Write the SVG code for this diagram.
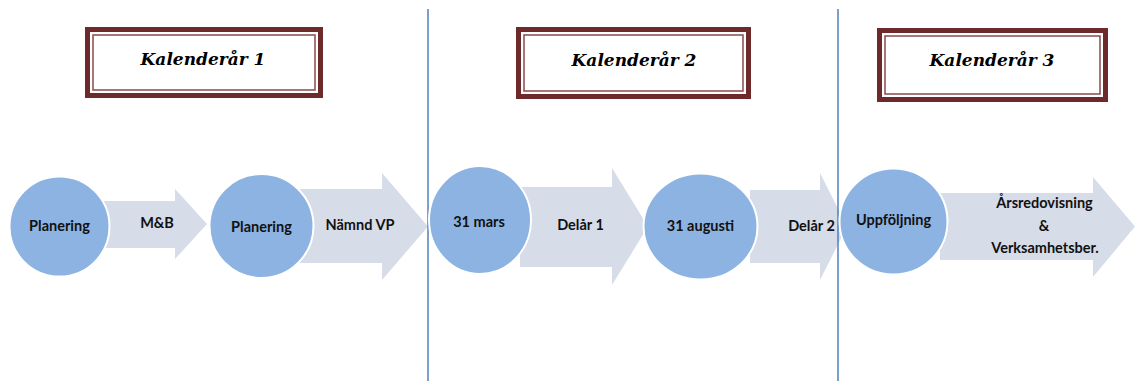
<svg xmlns="http://www.w3.org/2000/svg" width="1135" height="381" viewBox="0 0 1135 381">
<style>
.bg{fill:#ffffff}
.outer{fill:#ffffff;stroke:#6e2a2a;stroke-width:5}
.inner{fill:none;stroke:#8a4a4a;stroke-width:1.5}
.title{font-family:"DejaVu Serif",serif;font-weight:bold;font-style:italic;font-size:17px;fill:#000;text-anchor:middle}
.arrow{fill:#d6dce8}
.circ{fill:#8db3e2;stroke:#ffffff;stroke-width:2}
.lbl{font-family:Lato,"Liberation Sans",sans-serif;font-weight:bold;font-size:14.5px;fill:#111;text-anchor:middle}
.vline{stroke:#4f81bd;stroke-width:1.5}
</style>
<rect class="bg" x="0" y="0" width="1135" height="381"/>

<g id="header1">
<rect class="outer" x="87.5" y="29.5" width="233" height="66"/>
<rect class="inner" x="93" y="35" width="222" height="55"/>
<text class="title" x="203" y="65">Kalenderår 1</text>
</g>
<g id="header2">
<rect class="outer" x="518.5" y="29.5" width="230" height="67"/>
<rect class="inner" x="524" y="35" width="219" height="56"/>
<text class="title" x="634" y="66">Kalenderår 2</text>
</g>
<g id="header3">
<rect class="outer" x="879.5" y="30.5" width="226" height="69"/>
<rect class="inner" x="885" y="36" width="215" height="58"/>
<text class="title" x="992" y="66">Kalenderår 3</text>
</g>

<g id="connectors">
<path id="arrow-mb" class="arrow" d="M100,201 H175 V189 L207,224 L175,259 V248 H100 Z"/>
<path id="arrow-namnd" class="arrow" d="M300,189 H382 V173 L428,226.5 L382,280 V263 H300 Z"/>
<path id="arrow-delar1" class="arrow" d="M520,187 H612 V168 L648,226.5 L612,285 V267 H520 Z"/>
<path id="arrow-delar2" class="arrow" d="M750,190 H820 V173 L847,226.5 L820,280 V263 H750 Z"/>
<path id="arrow-ars" class="arrow" d="M940,193 H1093 V177 L1135,226.5 L1093,277 V260 H940 Z"/>
</g>

<g id="arrow-labels">
<text class="lbl" x="157" y="228">M&amp;B</text>
<text class="lbl" x="360" y="230">Nämnd VP</text>
<text class="lbl" x="580.5" y="230">Delår 1</text>
<text class="lbl" x="811.5" y="231">Delår 2</text>
<text class="lbl" x="1044.5" y="208">Årsredovisning</text>
<text class="lbl" x="1044" y="231">&amp;</text>
<text class="lbl" x="1045" y="252.5">Verksamhetsber.</text>
</g>

<g id="dividers">
<line class="vline" x1="428" y1="9" x2="428" y2="381"/>
<line class="vline" x1="838" y1="9" x2="838" y2="381"/>
</g>

<g id="node-planering1">
<ellipse class="circ" cx="59.5" cy="226.5" rx="50" ry="50"/>
<text class="lbl" x="59.5" y="231">Planering</text>
</g>
<g id="node-planering2">
<ellipse class="circ" cx="261.5" cy="226" rx="52" ry="52"/>
<text class="lbl" x="261.5" y="231.5">Planering</text>
</g>
<g id="node-31mars">
<ellipse class="circ" cx="480" cy="220" rx="51" ry="54"/>
<text class="lbl" x="479" y="226.5">31 mars</text>
</g>
<g id="node-31augusti">
<ellipse class="circ" cx="700.5" cy="226.5" rx="57" ry="53"/>
<text class="lbl" x="700.5" y="231">31 augusti</text>
</g>
<g id="node-uppfoljning">
<ellipse class="circ" cx="893.5" cy="221.5" rx="54" ry="53"/>
<text class="lbl" x="893.5" y="225">Uppföljning</text>
</g>
</svg>
